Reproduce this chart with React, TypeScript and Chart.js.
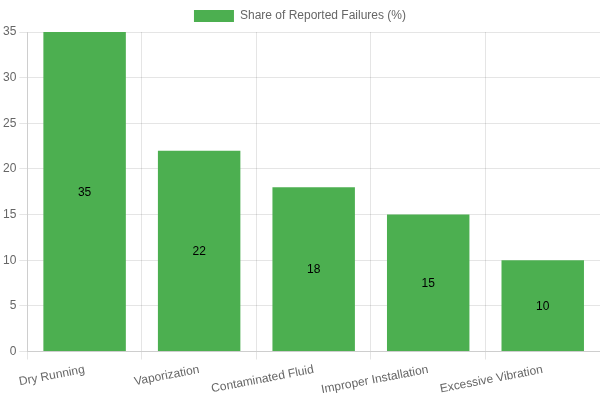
import { useEffect, useRef } from 'react';
import { Chart, registerables, Plugin } from 'chart.js';

Chart.register(...registerables);

const categories = ['Dry Running', 'Vaporization', 'Contaminated Fluid', 'Improper Installation', 'Excessive Vibration'];
const failureShare = [35, 22, 18, 15, 10];
const seriesLabel = 'Share of Reported Failures (%)';

// draws the value in the middle of each bar
const barValueLabels: Plugin<'bar'> = {
  id: 'barValueLabels',
  afterDatasetsDraw(chart) {
    const { ctx } = chart;
    ctx.save();
    ctx.font = "12px 'Helvetica Neue', Helvetica, Arial, sans-serif";
    ctx.fillStyle = '#000';
    ctx.textAlign = 'center';
    ctx.textBaseline = 'middle';
    chart.getDatasetMeta(0).data.forEach((bar, i) => {
      const { x, y } = bar.getCenterPoint();
      ctx.fillText(String(failureShare[i]), x, y + 1);
    });
    ctx.restore();
  }
};

export default function App() {
  const canvasRef = useRef<HTMLCanvasElement>(null);
  const chartInstance = useRef<Chart | null>(null);

  useEffect(() => {
    document.body.style.margin = '0';
    if (!canvasRef.current) return;
    if (chartInstance.current) {
      chartInstance.current.destroy();
    }

    chartInstance.current = new Chart(canvasRef.current, {
      type: 'bar',
      data: {
        labels: categories,
        datasets: [{
          label: seriesLabel,
          data: failureShare,
          backgroundColor: '#4CAF50',
          borderWidth: 0
        }]
      },
      options: {
        responsive: true,
        maintainAspectRatio: false,
        animation: false,
        plugins: {
          legend: { display: true },
          tooltip: { enabled: false }
        },
        scales: {
          y: {
            beginAtZero: true
          }
        }
      },
      plugins: [barValueLabels]
    });

    return () => {
      if (chartInstance.current) {
        chartInstance.current.destroy();
        chartInstance.current = null;
      }
    };
  }, []);

  return (
    <div style={{ width: 600, height: 400, position: 'relative' }}>
      <canvas ref={canvasRef} />
    </div>
  );
}
